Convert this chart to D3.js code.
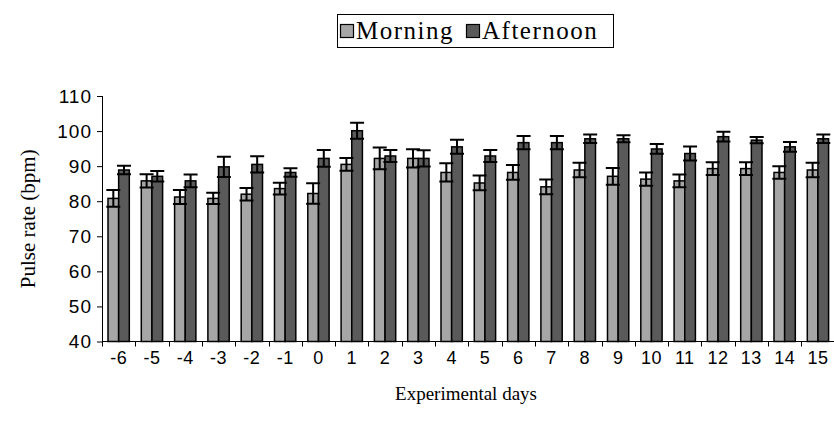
<!DOCTYPE html>
<html>
<head>
<meta charset="utf-8">
<script src="https://cdn.jsdelivr.net/npm/d3@7"></script>
<style>
  body { margin: 0; background: #fff; }
  svg { display: block; }
</style>
</head>
<body>
<div id="chart"></div>
<script>
// chart data
let days = ["-6","-5","-4","-3","-2","-1","0","1","2","3","4","5","6","7","8","9","10","11","12","13","14","15"];
let morning = [80.8, 85.8, 81.2, 80.8, 82.0, 83.6, 82.2, 90.5, 92.2, 92.2, 88.2, 85.2, 88.2, 84.1, 88.9, 87.1, 86.3, 85.8, 89.3, 89.3, 88.2, 88.9];
let morningErr = [2.4, 1.9, 2.0, 1.6, 1.8, 1.7, 2.9, 1.8, 3.1, 2.6, 2.6, 2.1, 2.1, 2.1, 2.1, 2.4, 1.9, 1.8, 1.8, 1.8, 1.8, 2.1];
let afternoon = [88.9, 87.1, 85.8, 89.8, 90.5, 88.2, 92.2, 100.1, 92.9, 92.2, 95.5, 92.9, 96.7, 96.7, 97.8, 97.8, 94.9, 93.6, 98.4, 97.4, 95.5, 97.8];
let afternoonErr = [1.2, 1.5, 1.8, 2.9, 2.3, 1.2, 2.4, 2.3, 1.7, 2.3, 2.0, 1.7, 1.9, 1.9, 1.2, 1.0, 1.4, 2.0, 1.4, 0.9, 1.4, 1.2];
let seriesNames = ["Morning", "Afternoon"];
let seriesColors = ["#a6a6a6", "#5a5a5a"];
let yTicks = [40, 50, 60, 70, 80, 90, 100, 110];

let width = 834, height = 432;
let margin = {top: 96, right: 0, bottom: 91, left: 102};

let svg = d3.select("#chart").append("svg")
    .attr("width", width)
    .attr("height", height);

let x = d3.scaleBand()
    .domain(days)
    .range([margin.left, margin.left + 22 * 33.3])
    .paddingInner(0.36)
    .paddingOuter(0.18);

let xSub = d3.scaleBand()
    .domain(seriesNames)
    .range([0, x.bandwidth()]);

let y = d3.scaleLinear()
    .domain([40, 110])
    .range([height - margin.bottom + 0.5, margin.top]);

let sans = "'Liberation Sans', Arial, sans-serif";
let serif = "'Liberation Serif', 'Times New Roman', serif";

// y axis
let yAxis = svg.append("g")
    .attr("transform", `translate(${margin.left},0)`)
    .call(d3.axisLeft(y).tickValues(yTicks).tickSize(5).tickPadding(5));
yAxis.selectAll("text")
    .style("font-family", sans)
    .style("font-size", "19px")
    .style("letter-spacing", "1px")
    .attr("fill", "#000");
yAxis.selectAll("line, path").attr("stroke", "#000");
yAxis.select("path").attr("d", `M0.5,${y(40)}V${y(110)}`);

// x axis with ticks between categories
let xg = svg.append("g");
xg.append("line")
    .attr("x1", margin.left).attr("x2", width)
    .attr("y1", y(40)).attr("y2", y(40))
    .attr("stroke", "#000");
let step = x.step();
let boundaries = d3.range(days.length + 1).map(i => x.range()[0] + i * step);
xg.selectAll(".xtick")
    .data(boundaries)
    .enter().append("line")
    .attr("x1", d => Math.round(d) + 0.5).attr("x2", d => Math.round(d) + 0.5)
    .attr("y1", y(40)).attr("y2", y(40) + 5)
    .attr("stroke", "#000");
xg.selectAll(".xlabel")
    .data(days)
    .enter().append("text")
    .attr("x", d => x(d) + x.bandwidth() / 2)
    .attr("y", y(40) + 22)
    .attr("text-anchor", "middle")
    .style("font-family", sans)
    .style("font-size", "18px")
    .style("letter-spacing", "0.5px")
    .text(d => d);

// bars
let rows = days.map((d, i) => ({
    day: d,
    vals: [
        {name: "Morning", v: morning[i], e: morningErr[i]},
        {name: "Afternoon", v: afternoon[i], e: afternoonErr[i]}
    ]
}));

let groups = svg.append("g").selectAll("g")
    .data(rows)
    .enter().append("g")
    .attr("transform", d => `translate(${x(d.day)},0)`);

groups.selectAll("rect")
    .data(d => d.vals)
    .enter().append("rect")
    .attr("x", d => xSub(d.name))
    .attr("y", d => y(d.v))
    .attr("width", xSub.bandwidth())
    .attr("height", d => y(40) - y(d.v))
    .attr("fill", (d, i) => seriesColors[i])
    .attr("stroke", "#000")
    .attr("stroke-width", 1.5);

// error bars
let capW = 14;
groups.selectAll(".err")
    .data(d => d.vals)
    .enter().append("path")
    .attr("class", "err")
    .attr("d", d => {
        let cx = xSub(d.name) + xSub.bandwidth() / 2;
        let t = y(d.v + d.e), b = y(d.v - d.e);
        return `M${cx},${t}V${b}M${cx - capW / 2},${t}H${cx + capW / 2}M${cx - capW / 2},${b}H${cx + capW / 2}`;
    })
    .attr("fill", "none")
    .attr("stroke", "#000")
    .attr("stroke-width", 2);

// axis titles
svg.append("text")
    .attr("transform", `translate(35,${(y(40) + y(110)) / 2}) rotate(-90)`)
    .attr("text-anchor", "middle")
    .style("font-family", serif)
    .style("font-size", "21px")
    .text("Pulse rate (bpm)");

svg.append("text")
    .attr("x", 466)
    .attr("y", 400)
    .attr("text-anchor", "middle")
    .style("font-family", serif)
    .style("font-size", "19px")
    .text("Experimental days");

// legend
let legend = svg.append("g");
legend.append("rect")
    .attr("x", 337.5).attr("y", 14.5)
    .attr("width", 276).attr("height", 33)
    .attr("fill", "#fff")
    .attr("stroke", "#000");
let legX = [340, 466];
seriesNames.forEach((name, i) => {
    legend.append("rect")
        .attr("x", legX[i] + 0.5).attr("y", 24.5)
        .attr("width", 13).attr("height", 13)
        .attr("fill", seriesColors[i])
        .attr("stroke", "#000")
        .attr("stroke-width", 1.2);
    legend.append("text")
        .attr("x", legX[i] + 16)
        .attr("y", 39)
        .style("font-family", serif)
        .style("font-size", "25px")
        .style("letter-spacing", "1.5px")
        .text(name);
});
</script>
</body>
</html>
